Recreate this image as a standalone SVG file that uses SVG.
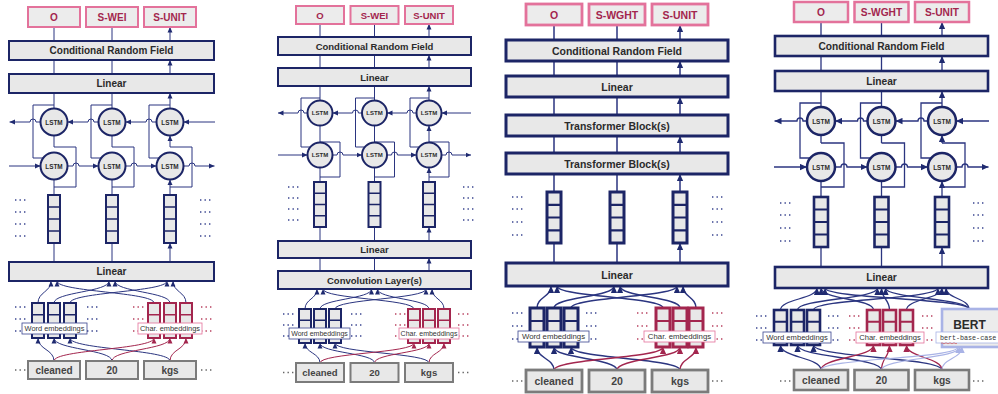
<svg xmlns="http://www.w3.org/2000/svg" width="998" height="394" viewBox="0 0 998 394">
<defs>
<style>
.box{fill:#e8e8e8;stroke:#1c2566;stroke-width:2}
.out{fill:#ececec;stroke:#e3729b;stroke-width:2}
.tok{fill:#e8e8e8;stroke:#7b7b7b;stroke-width:2}
.vec{fill:#e8e8e8;stroke:#1c2566;stroke-width:2}
.vecr{fill:#e8e8e8;stroke:#a3264e;stroke-width:2}
.cell{stroke:#1c2566;stroke-width:1.6}
.cellr{stroke:#a3264e;stroke-width:1.6}
.lstm{fill:#e8e8e8;stroke:#1c2566;stroke-width:2}
.t{font-family:'Liberation Sans',Arial,sans-serif;font-weight:bold;fill:#2b2b2b;text-anchor:middle;dominant-baseline:central}
.to{fill:#a3264e}
.tt{fill:#444}
.lb{font-family:'Liberation Sans',Arial,sans-serif;fill:#333;text-anchor:middle;dominant-baseline:central}
.lbw{fill:#fff;stroke:#3a4590;stroke-width:0.8}
.lbc{fill:#fff;stroke:#e3729b;stroke-width:0.8}
.w{fill:none;stroke:#2b3580;stroke-width:1}
.wr{fill:none;stroke:#a3264e;stroke-width:1}
.wb{fill:none;stroke:#a9b3e6;stroke-width:1.2}
.dn{fill:none;stroke:#3a4590;stroke-width:1.4;stroke-dasharray:1.4 3.1}
.dr{fill:none;stroke:#b8405f;stroke-width:1.4;stroke-dasharray:1.4 3.1}
.dg{fill:none;stroke:#666;stroke-width:1.4;stroke-dasharray:1.4 3.1}
</style>
<marker id="an" viewBox="0 0 10 10" refX="10" refY="5" markerWidth="5.5" markerHeight="5.5" markerUnits="userSpaceOnUse" orient="auto"><path d="M0,0.5 L10,5 L0,9.5z" fill="#1f2a70"/></marker>
<marker id="ar" viewBox="0 0 10 10" refX="10" refY="5" markerWidth="5.5" markerHeight="5.5" markerUnits="userSpaceOnUse" orient="auto"><path d="M0,0.5 L10,5 L0,9.5z" fill="#a3264e"/></marker>
<marker id="ab" viewBox="0 0 10 10" refX="10" refY="5" markerWidth="6" markerHeight="6" markerUnits="userSpaceOnUse" orient="auto"><path d="M0,0.5 L10,5 L0,9.5z" fill="#a9b3e6"/></marker>
<marker id="an2" viewBox="0 0 10 10" refX="10" refY="5" markerWidth="7" markerHeight="7" markerUnits="userSpaceOnUse" orient="auto"><path d="M0,0.5 L10,5 L0,9.5z" fill="#1f2a70"/></marker>
<marker id="ar2" viewBox="0 0 10 10" refX="10" refY="5" markerWidth="7" markerHeight="7" markerUnits="userSpaceOnUse" orient="auto"><path d="M0,0.5 L10,5 L0,9.5z" fill="#a3264e"/></marker>
</defs>
<rect width="998" height="394" fill="#fff"/>

<!-- ===================== connectors ===================== -->
<g id="connectors">
<!-- panel 1: BiLSTM -->
<g class="w" marker-end="url(#an)">
<path d="M54,41V27M112,41V27M170,41V27"/>
<path d="M54,74V60M112,74V60M170,74V60"/>
<path d="M54,108.5V93M112,108.5V93M170,108.5V93"/>
<path d="M54,147V135.5M112,147V135.5M170,147V135.5"/>
<path d="M54,195V179.5M112,195V179.5M170,195V179.5"/>
<path d="M54,262V243M112,262V243M170,262V243"/>
<path d="M40.5,122H36a3,3 0 0 0 -6,0H9.5"/>
<path d="M98.5,122H94a3,3 0 0 0 -6,0H67.5"/>
<path d="M156.5,122H152a3,3 0 0 0 -6,0H125.5"/>
<path d="M215,122H183.5"/>
<path d="M9,166H40.5"/>
<path d="M67.5,166H73a3,3 0 0 1 6,0H98.5"/>
<path d="M125.5,166H131a3,3 0 0 1 6,0H156.5"/>
<path d="M183.5,166H189a3,3 0 0 1 6,0H214.5"/>
<path d="M38,303C38,292 51,292 51,281"/>
<path d="M54,303C54,292 109,292 109,281"/>
<path d="M70,303C70,292 167,292 167,281"/>
<path d="M154,303C154,292 57,292 57,281"/>
<path d="M170,303C170,292 115,292 115,281"/>
<path d="M186,303C186,292 173,292 173,281"/>
<path d="M54,361C54,349.5 38,349.5 38,338"/>
<path d="M112,361C112,349.5 54,349.5 54,338"/>
<path d="M170,361C170,349.5 70,349.5 70,338"/>
</g>
<g class="w">
<path d="M54,105H33V158H43.1M112,105H91V158H101.1M170,105H149V158H159.1"/>
<path d="M54,147H76V187H54M112,147H134V187H112M170,147H192V187H170"/>
</g>
<g class="wr" marker-end="url(#ar)">
<path d="M54,361C54,349.5 154,349.5 154,338"/>
<path d="M112,361C112,349.5 170,349.5 170,338"/>
<path d="M170,361C170,349.5 186,349.5 186,338"/>
</g>

<!-- panel 2: CNN + BiLSTM -->
<g class="w" marker-end="url(#an)">
<path d="M320,37V24M374.5,37V24M429,37V24"/>
<path d="M320,68V55M374.5,68V55M429,68V55"/>
<path d="M320,100.5V86M374.5,100.5V86M429,100.5V86"/>
<path d="M320,142V125.5M374.5,142V125.5M429,142V125.5"/>
<path d="M320,182V167.5M374.5,182V167.5M429,182V167.5"/>
<path d="M320,241V227M374.5,241V227M429,241V227"/>
<path d="M320,271V258M374.5,271V258M429,271V258"/>
<path d="M307.5,113H304a3,3 0 0 0 -6,0H278"/>
<path d="M362,113H358.5a3,3 0 0 0 -6,0H332.5"/>
<path d="M416.5,113H413a3,3 0 0 0 -6,0H387"/>
<path d="M471,113H441.5"/>
<path d="M278,155H307.5"/>
<path d="M332.5,155H337a3,3 0 0 1 6,0H362"/>
<path d="M387,155H391.5a3,3 0 0 1 6,0H416.5"/>
<path d="M441.5,155H446a3,3 0 0 1 6,0H471"/>
<path d="M305,309C305,299 317,299 317,289"/>
<path d="M320,309C320,299 371.5,299 371.5,289"/>
<path d="M335,309C335,299 426,299 426,289"/>
<path d="M414,309C414,299 323,299 323,289"/>
<path d="M429,309C429,299 377.5,299 377.5,289"/>
<path d="M444,309C444,299 432,299 432,289"/>
<path d="M320,363C320,353 305,353 305,343"/>
<path d="M374.5,363C374.5,353 320,353 320,343"/>
<path d="M429,363C429,353 335,353 335,343"/>
</g>
<g class="w">
<path d="M320,98H301V147H310.4M374.5,98H355.5V147H364.9M429,98H410V147H419.4"/>
<path d="M320,142H340V177H320M374.5,142H394.5V177H374.5M429,142H449V177H429"/>
</g>
<g class="wr" marker-end="url(#ar)">
<path d="M320,363C320,353 414,353 414,343"/>
<path d="M374.5,363C374.5,353 429,353 429,343"/>
<path d="M429,363C429,353 444,353 444,343"/>
</g>

<!-- panel 3: Transformer -->
<g class="w" style="stroke-width:1.5" marker-end="url(#an2)">
<path d="M554,40V25M617,40V25M680,40V25"/>
<path d="M554,76V61M617,76V61M680,76V61"/>
<path d="M554,115V97M617,115V97M680,115V97"/>
<path d="M554,153V136M617,153V136M680,153V136"/>
<path d="M554,192V174M617,192V174M680,192V174"/>
<path d="M554,263V243M617,263V243M680,263V243"/>
<path d="M537,308C537,297 551,297 551,286"/>
<path d="M554,308C554,297 614,297 614,286"/>
<path d="M571,308C571,297 677,297 677,286"/>
<path d="M663,308C663,297 557,297 557,286"/>
<path d="M680,308C680,297 620,297 620,286"/>
<path d="M696,308C696,297 683,297 683,286"/>
<path d="M554,370C554,358.5 537,358.5 537,347"/>
<path d="M617,370C617,358.5 554,358.5 554,347"/>
<path d="M680,370C680,358.5 571,358.5 571,347"/>
</g>
<g class="wr" style="stroke-width:1.5" marker-end="url(#ar2)">
<path d="M554,370C554,358.5 663,358.5 663,347"/>
<path d="M617,370C617,358.5 680,358.5 680,347"/>
<path d="M680,370C680,358.5 696,358.5 696,347"/>
</g>

<!-- panel 4: BERT + BiLSTM -->
<g class="w" style="stroke-width:1.3" marker-end="url(#an2)">
<path d="M821,36V22M881.5,36V22M942,36V22"/>
<path d="M821,71V56M881.5,71V56M942,71V56"/>
<path d="M821,107V91M881.5,107V91M942,107V91"/>
<path d="M821,143V135M881.5,143V135M942,143V135"/>
<path d="M821,197V181M881.5,197V181M942,197V181"/>
<path d="M821,267V247M881.5,267V247M942,267V247"/>
<path d="M807,121H803a3,3 0 0 0 -6,0H774.5"/>
<path d="M867.5,121H863.5a3,3 0 0 0 -6,0H835"/>
<path d="M928,121H924a3,3 0 0 0 -6,0H895.5"/>
<path d="M989,121H956"/>
<path d="M774,167H807"/>
<path d="M835,167H841a3,3 0 0 1 6,0H867.5"/>
<path d="M895.5,167H901.5a3,3 0 0 1 6,0H928"/>
<path d="M956,167H962a3,3 0 0 1 6,0H988.5"/>
<path d="M780.5,310C780.5,299 817,299 817,288"/>
<path d="M797.5,310C797.5,299 877.5,299 877.5,288"/>
<path d="M813.5,310C813.5,299 938,299 938,288"/>
<path d="M873.5,310C873.5,299 821,299 821,288"/>
<path d="M889.5,310C889.5,299 881.5,299 881.5,288"/>
<path d="M906.5,310C906.5,299 942,299 942,288"/>
<path d="M969,309C969,298.5 825,298.5 825,288"/>
<path d="M969,309C969,298.5 885.5,298.5 885.5,288"/>
<path d="M969,309C969,298.5 946,298.5 946,288"/>
<path d="M821,370C821,357.5 780.5,357.5 780.5,345"/>
<path d="M881.5,370C881.5,357.5 797.5,357.5 797.5,345"/>
<path d="M942,370C942,357.5 813.5,357.5 813.5,345"/>
</g>
<g class="w" style="stroke-width:1.3">
<path d="M821,103H800V158H810.3M881.5,103H860.5V158H870.8M942,103H921V158H931.3"/>
<path d="M821,143H844V187H821M881.5,143H904.5V187H881.5M942,143H965V187H942"/>
</g>
<g class="wr" style="stroke-width:1.3" marker-end="url(#ar2)">
<path d="M821,370C821,357.5 873.5,357.5 873.5,345"/>
<path d="M881.5,370C881.5,357.5 889.5,357.5 889.5,345"/>
<path d="M942,370C942,357.5 906.5,357.5 906.5,345"/>
</g>
<g class="wb" marker-end="url(#ab)">
<path d="M821,370C821,358.5 958,358.5 958,347"/>
<path d="M881.5,370C881.5,358.5 960,358.5 960,347"/>
<path d="M942,370C942,358.5 962,358.5 962,347"/>
</g>
</g>

<!-- ===================== panel 1 nodes ===================== -->
<g id="p1-out-o"><rect class="out" x="28" y="7" width="52" height="20"/><text class="t to" x="54" y="17" font-size="10">O</text></g>
<g id="p1-out-swei"><rect class="out" x="86" y="7" width="52" height="20"/><text class="t to" x="112" y="17" font-size="10">S-WEI</text></g>
<g id="p1-out-sunit"><rect class="out" x="144" y="7" width="52" height="20"/><text class="t to" x="170" y="17" font-size="10">S-UNIT</text></g>
<g id="p1-crf"><rect class="box" x="9" y="41" width="205" height="19"/><text class="t" x="111.5" y="50.5" font-size="10">Conditional Random Field</text></g>
<g id="p1-linear-top"><rect class="box" x="9" y="74" width="205" height="19"/><text class="t" x="111.5" y="83.5" font-size="10">Linear</text></g>
<g id="p1-lstm">
<circle class="lstm" cx="54" cy="122" r="13.5"/><circle class="lstm" cx="112" cy="122" r="13.5"/><circle class="lstm" cx="170" cy="122" r="13.5"/>
<circle class="lstm" cx="54" cy="166" r="13.5"/><circle class="lstm" cx="112" cy="166" r="13.5"/><circle class="lstm" cx="170" cy="166" r="13.5"/>
<text class="t" font-size="6.4" x="54" y="122">LSTM</text><text class="t" font-size="6.4" x="112" y="122">LSTM</text><text class="t" font-size="6.4" x="170" y="122">LSTM</text>
<text class="t" font-size="6.4" x="54" y="166">LSTM</text><text class="t" font-size="6.4" x="112" y="166">LSTM</text><text class="t" font-size="6.4" x="170" y="166">LSTM</text>
</g>
<g id="p1-vectors">
<rect class="vec" x="48" y="195" width="12" height="48"/><rect class="vec" x="106" y="195" width="12" height="48"/><rect class="vec" x="164" y="195" width="12" height="48"/>
<path class="cell" d="M48,207h12M48,219h12M48,231h12M106,207h12M106,219h12M106,231h12M164,207h12M164,219h12M164,231h12"/>
<path class="dn" d="M15,200h10.5M15,212h10.5M15,224h10.5M15,236h10.5M200,200h10.5M200,212h10.5M200,224h10.5M200,236h10.5"/>
</g>
<g id="p1-linear-bottom"><rect class="box" x="9" y="262" width="205" height="19"/><text class="t" x="111.5" y="271.5" font-size="10">Linear</text></g>
<g id="p1-word-emb">
<path class="dn" d="M15,307h10.5M15,319h10.5M15,331h10.5M87,307h10.5M87,319h10.5M87,331h10.5"/>
<rect class="vec" x="32" y="303" width="12" height="35"/><rect class="vec" x="48" y="303" width="12" height="35"/><rect class="vec" x="64" y="303" width="12" height="35"/>
<path class="cell" d="M32,314.7h12M32,326.3h12M48,314.7h12M48,326.3h12M64,314.7h12M64,326.3h12"/>
<rect class="lbw" x="22" y="323" width="65" height="11"/><text class="lb" x="54.5" y="328.7" font-size="7.4">Word embeddings</text>
</g>
<g id="p1-char-emb">
<path class="dr" d="M133,307h10.5M133,319h10.5M133,331h10.5M201,307h10.5M201,319h10.5M201,331h10.5"/>
<rect class="vecr" x="148" y="303" width="12" height="35"/><rect class="vecr" x="164" y="303" width="12" height="35"/><rect class="vecr" x="180" y="303" width="12" height="35"/>
<path class="cellr" d="M148,314.7h12M148,326.3h12M164,314.7h12M164,326.3h12M180,314.7h12M180,326.3h12"/>
<rect class="lbc" x="138" y="323" width="64" height="11"/><text class="lb" x="170" y="328.7" font-size="7.4">Char. embeddings</text>
</g>
<g id="p1-tokens">
<path class="dg" d="M15,370h10.5M201,370h10.5"/>
<rect class="tok" x="28" y="361" width="52" height="18"/><text class="t tt" x="54" y="370" font-size="10">cleaned</text>
<rect class="tok" x="86" y="361" width="52" height="18"/><text class="t tt" x="112" y="370" font-size="10">20</text>
<rect class="tok" x="144" y="361" width="52" height="18"/><text class="t tt" x="170" y="370" font-size="10">kgs</text>
</g>

<!-- ===================== panel 2 nodes ===================== -->
<g id="p2-out-o"><rect class="out" x="296" y="6" width="48" height="18"/><text class="t to" x="320" y="15" font-size="9.5">O</text></g>
<g id="p2-out-swei"><rect class="out" x="350.5" y="6" width="48" height="18"/><text class="t to" x="374.5" y="15" font-size="9.5">S-WEI</text></g>
<g id="p2-out-sunit"><rect class="out" x="405" y="6" width="48" height="18"/><text class="t to" x="429" y="15" font-size="9.5">S-UNIT</text></g>
<g id="p2-crf"><rect class="box" x="278" y="37" width="193" height="18"/><text class="t" x="374.5" y="46" font-size="9.5">Conditional Random Field</text></g>
<g id="p2-linear-top"><rect class="box" x="278" y="68" width="193" height="18"/><text class="t" x="374.5" y="77" font-size="9.5">Linear</text></g>
<g id="p2-lstm">
<circle class="lstm" cx="320" cy="113" r="12.5"/><circle class="lstm" cx="374.5" cy="113" r="12.5"/><circle class="lstm" cx="429" cy="113" r="12.5"/>
<circle class="lstm" cx="320" cy="155" r="12.5"/><circle class="lstm" cx="374.5" cy="155" r="12.5"/><circle class="lstm" cx="429" cy="155" r="12.5"/>
<text class="t" font-size="6" x="320" y="113">LSTM</text><text class="t" font-size="6" x="374.5" y="113">LSTM</text><text class="t" font-size="6" x="429" y="113">LSTM</text>
<text class="t" font-size="6" x="320" y="155">LSTM</text><text class="t" font-size="6" x="374.5" y="155">LSTM</text><text class="t" font-size="6" x="429" y="155">LSTM</text>
</g>
<g id="p2-vectors">
<rect class="vec" x="314" y="182" width="12" height="45"/><rect class="vec" x="368.5" y="182" width="12" height="45"/><rect class="vec" x="423" y="182" width="12" height="45"/>
<path class="cell" d="M314,193.3h12M314,204.5h12M314,215.8h12M368.5,193.3h12M368.5,204.5h12M368.5,215.8h12M423,193.3h12M423,204.5h12M423,215.8h12"/>
<path class="dn" d="M288,187h10.5M288,198h10.5M288,209h10.5M288,220h10.5M463,187h10.5M463,198h10.5M463,209h10.5M463,220h10.5"/>
</g>
<g id="p2-linear-bottom"><rect class="box" x="278" y="241" width="193" height="17"/><text class="t" x="374.5" y="249.5" font-size="9.5">Linear</text></g>
<g id="p2-conv"><rect class="box" x="278" y="271" width="193" height="18"/><text class="t" x="374.5" y="280" font-size="9.5">Convolution Layer(s)</text></g>
<g id="p2-word-emb">
<path class="dn" d="M283,314h10.5M283,325h10.5M283,336h10.5M351,314h10.5M351,325h10.5M351,336h10.5"/>
<rect class="vec" x="299" y="309" width="12" height="34"/><rect class="vec" x="314" y="309" width="12" height="34"/><rect class="vec" x="329" y="309" width="12" height="34"/>
<path class="cell" d="M299,320.3h12M299,331.7h12M314,320.3h12M314,331.7h12M329,320.3h12M329,331.7h12"/>
<rect class="lbw" x="289" y="328" width="61" height="11"/><text class="lb" x="319.5" y="333.7" font-size="7">Word embeddings</text>
</g>
<g id="p2-char-emb">
<path class="dr" d="M395,314h10.5M395,325h10.5M395,336h10.5M458,314h10.5M458,325h10.5M458,336h10.5"/>
<rect class="vecr" x="408" y="309" width="12" height="34"/><rect class="vecr" x="423" y="309" width="12" height="34"/><rect class="vecr" x="438" y="309" width="12" height="34"/>
<path class="cellr" d="M408,320.3h12M408,331.7h12M423,320.3h12M423,331.7h12M438,320.3h12M438,331.7h12"/>
<rect class="lbc" x="399" y="328" width="60" height="11"/><text class="lb" x="429" y="333.7" font-size="7">Char. embeddings</text>
</g>
<g id="p2-tokens">
<path class="dg" d="M283,372.5h10.5M458,372.5h10.5"/>
<rect class="tok" x="296" y="363" width="48" height="19"/><text class="t tt" x="320" y="372.5" font-size="9.5">cleaned</text>
<rect class="tok" x="350.5" y="363" width="48" height="19"/><text class="t tt" x="374.5" y="372.5" font-size="9.5">20</text>
<rect class="tok" x="405" y="363" width="48" height="19"/><text class="t tt" x="429" y="372.5" font-size="9.5">kgs</text>
</g>

<!-- ===================== panel 3 nodes ===================== -->
<g id="p3-out-o"><rect class="out" style="stroke-width:2.8" x="526" y="4" width="56" height="21"/><text class="t to" x="554" y="14.5" font-size="10.5">O</text></g>
<g id="p3-out-swght"><rect class="out" style="stroke-width:2.8" x="589" y="4" width="56" height="21"/><text class="t to" x="617" y="14.5" font-size="10.5">S-WGHT</text></g>
<g id="p3-out-sunit"><rect class="out" style="stroke-width:2.8" x="652" y="4" width="56" height="21"/><text class="t to" x="680" y="14.5" font-size="10.5">S-UNIT</text></g>
<g id="p3-crf"><rect class="box" style="stroke-width:3" x="506" y="40" width="222" height="21"/><text class="t" x="617" y="50.5" font-size="10.5">Conditional Random Field</text></g>
<g id="p3-linear-top"><rect class="box" style="stroke-width:3" x="506" y="76" width="222" height="21"/><text class="t" x="617" y="86.5" font-size="10.5">Linear</text></g>
<g id="p3-transformer-2"><rect class="box" style="stroke-width:3" x="506" y="115" width="222" height="21"/><text class="t" x="617" y="125.5" font-size="10.5">Transformer Block(s)</text></g>
<g id="p3-transformer-1"><rect class="box" style="stroke-width:3" x="506" y="153" width="222" height="21"/><text class="t" x="617" y="163.5" font-size="10.5">Transformer Block(s)</text></g>
<g id="p3-vectors">
<rect class="vec" style="stroke-width:3" x="547" y="192" width="14" height="51"/><rect class="vec" style="stroke-width:3" x="610" y="192" width="14" height="51"/><rect class="vec" style="stroke-width:3" x="673" y="192" width="14" height="51"/>
<path class="cell" style="stroke-width:2.2" d="M547,204.8h14M547,217.5h14M547,230.3h14M610,204.8h14M610,217.5h14M610,230.3h14M673,204.8h14M673,217.5h14M673,230.3h14"/>
<path class="dn" d="M512,197h10.5M512,209h10.5M512,222h10.5M512,235h10.5M712,197h10.5M712,209h10.5M712,222h10.5M712,235h10.5"/>
</g>
<g id="p3-linear-bottom"><rect class="box" style="stroke-width:3" x="506" y="263" width="222" height="23"/><text class="t" x="617" y="274.5" font-size="10.5">Linear</text></g>
<g id="p3-word-emb">
<path class="dn" d="M512,313h10.5M512,326h10.5M512,339h10.5M586,313h10.5M586,326h10.5M586,339h10.5"/>
<rect class="vec" style="stroke-width:3" x="530" y="308" width="14" height="39"/><rect class="vec" style="stroke-width:3" x="547" y="308" width="14" height="39"/><rect class="vec" style="stroke-width:3" x="564" y="308" width="14" height="39"/>
<path class="cell" style="stroke-width:2.2" d="M530,321h14M530,334h14M547,321h14M547,334h14M564,321h14M564,334h14"/>
<rect class="lbw" x="518" y="331" width="71" height="11"/><text class="lb" x="553.5" y="336.7" font-size="7.8">Word embeddings</text>
</g>
<g id="p3-char-emb">
<path class="dr" d="M637,313h10.5M637,326h10.5M637,339h10.5M712,313h10.5M712,326h10.5M712,339h10.5"/>
<rect class="vecr" style="stroke-width:3" x="656" y="308" width="14" height="39"/><rect class="vecr" style="stroke-width:3" x="673" y="308" width="14" height="39"/><rect class="vecr" style="stroke-width:3" x="689" y="308" width="14" height="39"/>
<path class="cellr" style="stroke-width:2.2" d="M656,321h14M656,334h14M673,321h14M673,334h14M689,321h14M689,334h14"/>
<rect class="lbc" x="644" y="331" width="71" height="11"/><text class="lb" x="679.5" y="336.7" font-size="7.8">Char. embeddings</text>
</g>
<g id="p3-tokens">
<path class="dg" d="M512,381h10.5M712,381h10.5"/>
<rect class="tok" style="stroke-width:2.8" x="526" y="370" width="56" height="22"/><text class="t tt" x="554" y="381" font-size="10.5">cleaned</text>
<rect class="tok" style="stroke-width:2.8" x="589" y="370" width="56" height="22"/><text class="t tt" x="617" y="381" font-size="10.5">20</text>
<rect class="tok" style="stroke-width:2.8" x="652" y="370" width="56" height="22"/><text class="t tt" x="680" y="381" font-size="10.5">kgs</text>
</g>

<!-- ===================== panel 4 nodes ===================== -->
<g id="p4-out-o"><rect class="out" style="stroke-width:2.5" x="794" y="2" width="54" height="20"/><text class="t to" x="821" y="12" font-size="10.2">O</text></g>
<g id="p4-out-swght"><rect class="out" style="stroke-width:2.5" x="854.5" y="2" width="54" height="20"/><text class="t to" x="881.5" y="12" font-size="10.2">S-WGHT</text></g>
<g id="p4-out-sunit"><rect class="out" style="stroke-width:2.5" x="915" y="2" width="54" height="20"/><text class="t to" x="942" y="12" font-size="10.2">S-UNIT</text></g>
<g id="p4-crf"><rect class="box" style="stroke-width:2.6" x="775" y="36" width="213" height="20"/><text class="t" x="881.5" y="46" font-size="10.2">Conditional Random Field</text></g>
<g id="p4-linear-top"><rect class="box" style="stroke-width:2.6" x="775" y="71" width="213" height="20"/><text class="t" x="881.5" y="81" font-size="10.2">Linear</text></g>
<g id="p4-lstm">
<circle class="lstm" style="stroke-width:2.5" cx="821" cy="121" r="14"/><circle class="lstm" style="stroke-width:2.5" cx="881.5" cy="121" r="14"/><circle class="lstm" style="stroke-width:2.5" cx="942" cy="121" r="14"/>
<circle class="lstm" style="stroke-width:2.5" cx="821" cy="167" r="14"/><circle class="lstm" style="stroke-width:2.5" cx="881.5" cy="167" r="14"/><circle class="lstm" style="stroke-width:2.5" cx="942" cy="167" r="14"/>
<text class="t" font-size="6.5" x="821" y="121">LSTM</text><text class="t" font-size="6.5" x="881.5" y="121">LSTM</text><text class="t" font-size="6.5" x="942" y="121">LSTM</text>
<text class="t" font-size="6.5" x="821" y="167">LSTM</text><text class="t" font-size="6.5" x="881.5" y="167">LSTM</text><text class="t" font-size="6.5" x="942" y="167">LSTM</text>
</g>
<g id="p4-vectors">
<rect class="vec" style="stroke-width:2.6" x="814" y="197" width="14" height="50"/><rect class="vec" style="stroke-width:2.6" x="874.5" y="197" width="14" height="50"/><rect class="vec" style="stroke-width:2.6" x="935" y="197" width="14" height="50"/>
<path class="cell" style="stroke-width:2" d="M814,209.5h14M814,222h14M814,234.5h14M874.5,209.5h14M874.5,222h14M874.5,234.5h14M935,209.5h14M935,222h14M935,234.5h14"/>
<path class="dn" d="M780,203h10.5M780,215h10.5M780,228h10.5M780,241h10.5M973,203h10.5M973,215h10.5M973,228h10.5M973,241h10.5"/>
</g>
<g id="p4-linear-bottom"><rect class="box" style="stroke-width:2.6" x="775" y="267" width="213" height="21"/><text class="t" x="881.5" y="277.5" font-size="10.2">Linear</text></g>
<g id="p4-word-emb">
<path class="dn" d="M756,316h10.5M756,328h10.5M756,340h10.5M828,316h10.5M828,328h10.5M828,340h10.5"/>
<rect class="vec" style="stroke-width:2.6" x="774" y="310" width="13" height="35"/><rect class="vec" style="stroke-width:2.6" x="791" y="310" width="13" height="35"/><rect class="vec" style="stroke-width:2.6" x="807" y="310" width="13" height="35"/>
<path class="cell" style="stroke-width:2" d="M774,321.7h13M774,333.3h13M791,321.7h13M791,333.3h13M807,321.7h13M807,333.3h13"/>
<rect class="lbw" x="763" y="332" width="68" height="11"/><text class="lb" x="797" y="337.7" font-size="7.6">Word embeddings</text>
</g>
<g id="p4-char-emb">
<path class="dr" d="M849,316h10.5M849,328h10.5M849,340h10.5M922,316h10.5M922,328h10.5M922,340h10.5"/>
<rect class="vecr" style="stroke-width:2.6" x="867" y="310" width="13" height="35"/><rect class="vecr" style="stroke-width:2.6" x="883" y="310" width="13" height="35"/><rect class="vecr" style="stroke-width:2.6" x="900" y="310" width="13" height="35"/>
<path class="cellr" style="stroke-width:2" d="M867,321.7h13M867,333.3h13M883,321.7h13M883,333.3h13M900,321.7h13M900,333.3h13"/>
<rect class="lbc" x="856" y="332" width="68" height="11"/><text class="lb" x="890" y="337.7" font-size="7.6">Char. embeddings</text>
</g>
<g id="p4-bert">
<rect x="942" y="309" width="62" height="38" fill="#ececec" stroke="#a9b3e6" stroke-width="2.6"/>
<text class="t" x="969.5" y="325" font-size="12">BERT</text>
<rect x="936" y="332" width="70" height="11" fill="#fff" stroke="#a9b3e6" stroke-width="0.8"/>
<text x="940" y="337.7" font-family="'Liberation Mono','Courier New',monospace" font-size="6.7" fill="#333" dominant-baseline="central">bert-base-case</text>
<path d="M941,343.3q1,-1 2,0t2,0t2,0t2,0t2,0t2,0t2,0t2,0" fill="none" stroke="#d04040" stroke-width="0.6"/>
</g>
<g id="p4-tokens">
<path class="dg" d="M780,381h10.5M973,381h10.5"/>
<rect class="tok" style="stroke-width:2.6" x="794" y="370" width="54" height="20"/><text class="t tt" x="821" y="380" font-size="10.2">cleaned</text>
<rect class="tok" style="stroke-width:2.6" x="854.5" y="370" width="54" height="20"/><text class="t tt" x="881.5" y="380" font-size="10.2">20</text>
<rect class="tok" style="stroke-width:2.6" x="915" y="370" width="54" height="20"/><text class="t tt" x="942" y="380" font-size="10.2">kgs</text>
</g>
</svg>
